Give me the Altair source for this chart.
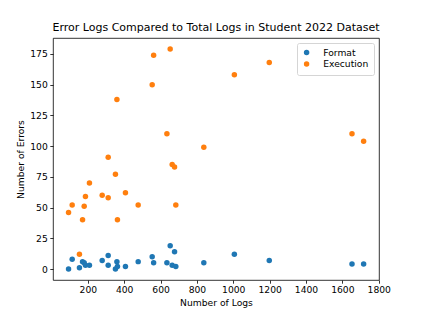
import altair as alt
import pandas as pd

total_logs = [94, 114, 154, 171, 180, 187, 209, 279, 312, 312, 352, 360, 363, 407,
              477, 554, 562, 635, 653, 664, 677, 684, 838, 1006, 1198, 1653, 1717]
format_errors = [0, 8, 1, 6, 5, 3, 3, 7, 11, 3, 0, 6, 2, 2,
                 6, 10, 5, 5, 19, 3, 14, 2, 5, 12, 7, 4, 4]
execution_errors = [46, 52, 12, 40, 51, 59, 70, 60, 91, 58, 77, 138, 40, 62,
                    52, 150, 174, 110, 179, 85, 83, 52, 99, 158, 168, 110, 104]
series_names = ["Format", "Execution"]
series_colors = ["#1f77b4", "#ff7f0e"]
x_ticks = [200, 400, 600, 800, 1000, 1200, 1400, 1600, 1800]
y_ticks = [0, 25, 50, 75, 100, 125, 150, 175]

rows = []
for name, vals in zip(series_names, [format_errors, execution_errors]):
    for x, y in zip(total_logs, vals):
        rows.append({"Total Logs": x, "Errors": y, "Type": name})
df = pd.DataFrame(rows)

FONT = "DejaVu Sans"

chart = alt.Chart(df).mark_circle(size=30, opacity=1).encode(
    x=alt.X("Total Logs:Q",
            scale=alt.Scale(domain=[8.5, 1801.5], nice=False, zero=False),
            axis=alt.Axis(title="Number of Logs", values=x_ticks, grid=False,
                          format="d", labelOverlap=False, labelFlush=False,
                          labelBound=False)),
    y=alt.Y("Errors:Q",
            scale=alt.Scale(domain=[-8.95, 187.95], nice=False, zero=False),
            axis=alt.Axis(title="Number of Errors", values=y_ticks, grid=False,
                          format="d", labelOverlap=False, labelFlush=False,
                          labelBound=False)),
    color=alt.Color("Type:N",
                    scale=alt.Scale(domain=series_names, range=series_colors),
                    legend=alt.Legend(title=None, orient="top-right", offset=5,
                                      symbolType="circle", symbolSize=30,
                                      labelFontSize=9.2, labelFont=FONT,
                                      labelColor="black",
                                      strokeColor="#d5d5d5", fillColor="white",
                                      cornerRadius=2, padding=5,
                                      rowPadding=1.5, labelOffset=12)),
).properties(
    width=326, height=242,
    title="Error Logs Compared to Total Logs in Student 2022 Dataset",
    autosize=alt.AutoSizeParams(type="none"),
    padding={"left": 45, "top": 30, "right": 35, "bottom": 28},
).configure_view(
    stroke="black", strokeWidth=0.8
).configure_axis(
    domain=False, tickColor="black", tickSize=3.2, tickWidth=0.8,
    labelFont=FONT, labelFontSize=9.2, labelColor="black", labelPadding=2.5,
    titleFont=FONT, titleFontSize=9.2, titleFontWeight="normal", titleColor="black",
    titlePadding=4,
).configure_title(
    font=FONT, fontSize=11, fontWeight="normal", color="black", anchor="middle", offset=5
)

chart.save("out.html", embed_options={"renderer": "svg", "actions": False})
